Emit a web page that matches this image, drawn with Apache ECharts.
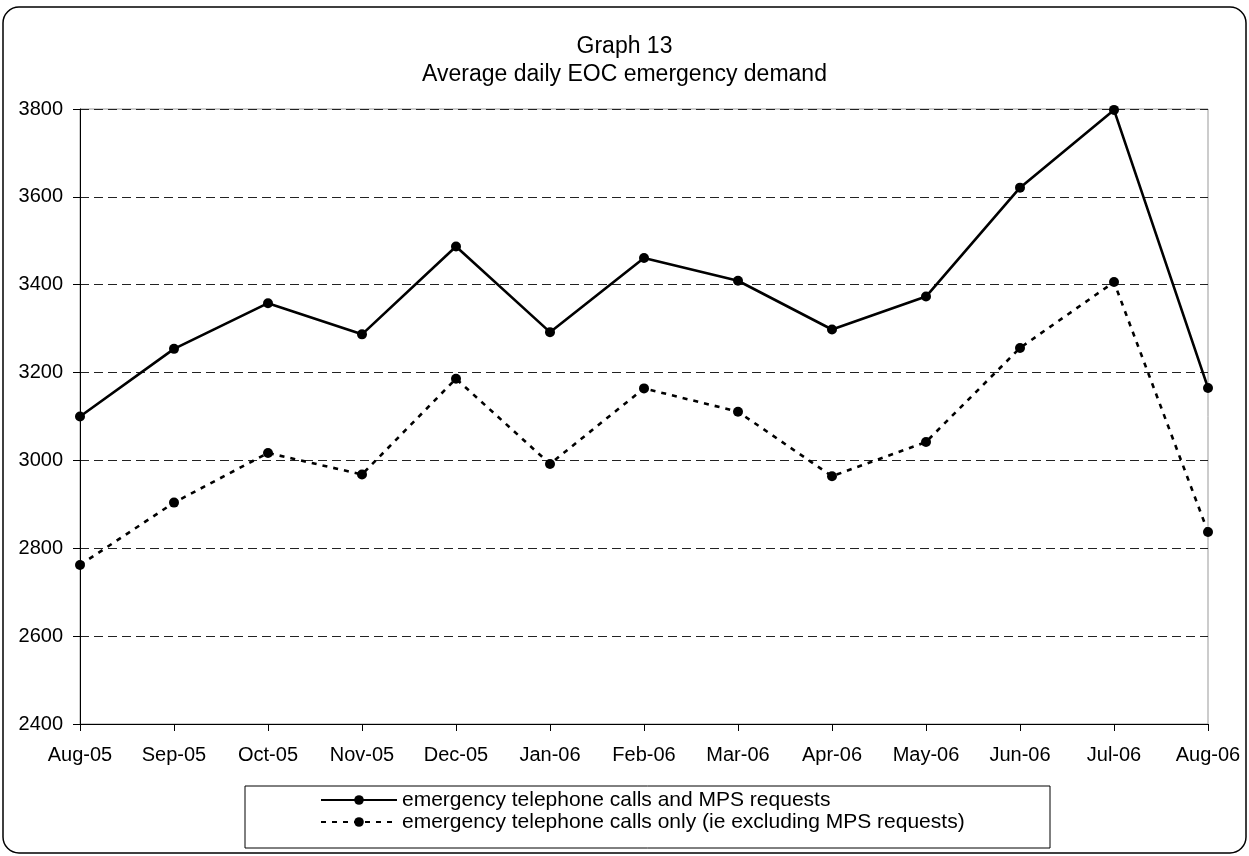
<!DOCTYPE html>
<html>
<head>
<meta charset="utf-8">
<script src="https://cdn.jsdelivr.net/npm/echarts@6/dist/echarts.min.js"></script>
<style>html,body{margin:0;padding:0;background:#fff;}#c{width:1249px;height:856px;}</style>
</head>
<body>
<div id="c"></div>
<script>
const categories = ['Aug-05','Sep-05','Oct-05','Nov-05','Dec-05','Jan-06','Feb-06','Mar-06','Apr-06','May-06','Jun-06','Jul-06','Aug-06'];
const callsAndMps = [3100, 3254, 3358, 3287, 3487, 3292, 3461, 3409, 3298, 3373, 3621, 3798, 3165];
const callsOnly = [2762, 2904, 3017, 2968, 3186, 2992, 3164, 3111, 2964, 3042, 3256, 3406, 2837];
const seriesNames = ['emergency telephone calls and MPS requests', 'emergency telephone calls only (ie excluding MPS requests)'];
const titleLines = ['Graph 13', 'Average daily EOC emergency demand'];

const FONT = 'Liberation Sans, Arial, sans-serif';
const chart = echarts.init(document.getElementById('c'), null, {renderer: 'canvas'});
chart.setOption({
  backgroundColor: '#fff',
  animation: false,
  title: {
    text: titleLines.join('\n'),
    left: 'center',
    top: 28,
    textStyle: {fontFamily: FONT, fontSize: 23, fontWeight: 'normal', color: '#000', lineHeight: 28}
  },
  graphic: [
    {type: 'rect', shape: {x: 3, y: 7, width: 1243, height: 846, r: 16}, style: {fill: 'none', stroke: '#000', lineWidth: 1.5}, z: -10},
    {type: 'rect', shape: {x: 245, y: 786, width: 805, height: 62}, style: {fill: 'none', stroke: '#000', lineWidth: 1}, z: -5}
  ],
  legend: {
    orient: 'vertical',
    left: 320,
    top: 789,
    padding: 0,
    itemGap: 0,
    itemWidth: 76,
    itemHeight: 12,
    textStyle: {fontFamily: FONT, fontSize: 21, color: '#000', lineHeight: 22},
    data: seriesNames
  },
  grid: {left: 80, right: 41, top: 109, bottom: 132, show: true, borderColor: '#999', borderWidth: 1},
  xAxis: {
    type: 'category',
    data: categories,
    boundaryGap: false,
    axisLine: {lineStyle: {color: '#000', width: 1}},
    axisTick: {show: true, length: 7, lineStyle: {color: '#000'}},
    axisLabel: {fontFamily: FONT, fontSize: 20, color: '#000', margin: 21, interval: 0},
    splitLine: {show: false}
  },
  yAxis: {
    type: 'value',
    min: 2400, max: 3800, interval: 200,
    axisLine: {show: true, lineStyle: {color: '#000', width: 1}},
    axisTick: {show: true, length: 7, lineStyle: {color: '#000'}},
    axisLabel: {fontFamily: FONT, fontSize: 20, color: '#000', margin: 17, formatter: function (v) { return String(v); }},
    splitLine: {show: true, lineStyle: {color: '#222', width: 1, type: [9, 5]}}
  },
  series: [
    {
      name: seriesNames[0], type: 'line', data: callsAndMps,
      symbol: 'circle', symbolSize: 10,
      lineStyle: {color: '#000', width: 2.6, type: 'solid'},
      itemStyle: {color: '#000'}
    },
    {
      name: seriesNames[1], type: 'line', data: callsOnly,
      symbol: 'circle', symbolSize: 10,
      lineStyle: {color: '#000', width: 2.6, type: [5, 6]},
      itemStyle: {color: '#000'}
    }
  ]
});
</script>
</body>
</html>
